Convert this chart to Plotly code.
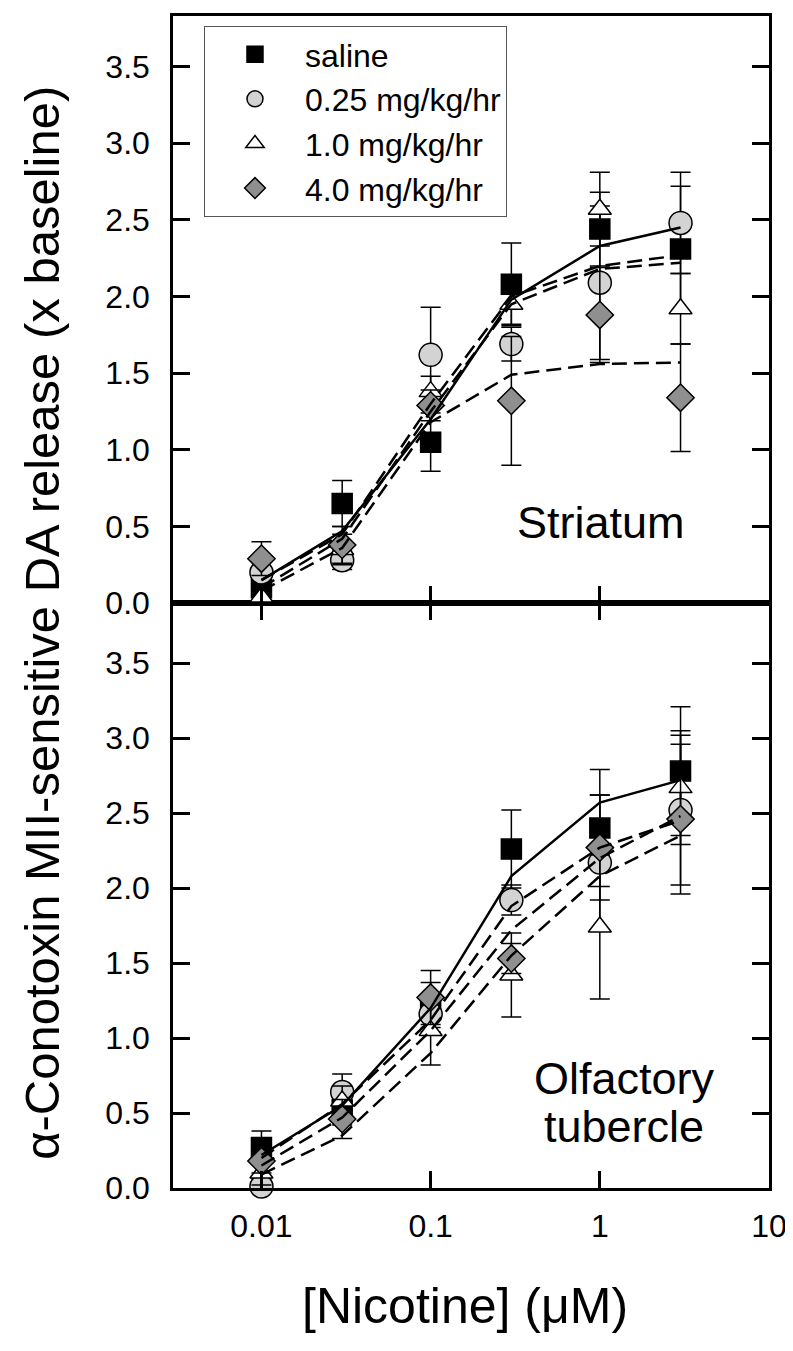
import plotly.graph_objects as go

conc = [0.01, 0.03, 0.1, 0.3, 1, 3]
groups = ["saline", "0.25 mg/kg/hr", "1.0 mg/kg/hr", "4.0 mg/kg/hr"]

# Striatum (top panel)
str_mean = {
    "saline": [0.10, 0.65, 1.05, 2.08, 2.44, 2.31],
    "0.25 mg/kg/hr": [0.20, 0.28, 1.62, 1.69, 2.09, 2.48],
    "1.0 mg/kg/hr": [0.04, 0.35, 1.38, 1.95, 2.57, 1.92],
    "4.0 mg/kg/hr": [0.29, 0.38, 1.29, 1.32, 1.88, 1.34],
}
str_err = {
    "saline": [0.05, 0.15, 0.19, 0.27, 0.24, 0.41],
    "0.25 mg/kg/hr": [0.07, 0.06, 0.31, 0.11, 0.50, 0.33],
    "1.0 mg/kg/hr": [0.04, 0.10, 0.10, 0.13, 0.24, 0.23],
    "4.0 mg/kg/hr": [0.11, 0.12, 0.10, 0.42, 0.31, 0.35],
}
str_fit = {
    "saline": [0.15, 0.47, 1.20, 1.98, 2.33, 2.45],
    "0.25 mg/kg/hr": [0.15, 0.45, 1.30, 2.00, 2.20, 2.27],
    "1.0 mg/kg/hr": [0.10, 0.42, 1.25, 1.95, 2.18, 2.22],
    "4.0 mg/kg/hr": [0.08, 0.36, 1.18, 1.49, 1.56, 1.57],
}

# Olfactory tubercle (bottom panel)
olf_mean = {
    "saline": [0.27, 0.52, 1.22, 2.26, 2.40, 2.78],
    "0.25 mg/kg/hr": [0.01, 0.64, 1.16, 1.92, 2.17, 2.52],
    "1.0 mg/kg/hr": [0.10, 0.58, 1.05, 1.42, 1.74, 2.67],
    "4.0 mg/kg/hr": [0.18, 0.46, 1.27, 1.53, 2.27, 2.46],
}
olf_err = {
    "saline": [0.11, 0.10, 0.15, 0.26, 0.39, 0.43],
    "0.25 mg/kg/hr": [0.05, 0.12, 0.12, 0.10, 0.45, 0.50],
    "1.0 mg/kg/hr": [0.08, 0.10, 0.23, 0.28, 0.48, 0.38],
    "4.0 mg/kg/hr": [0.08, 0.13, 0.18, 0.10, 0.35, 0.50],
}
olf_fit = {
    "saline": [0.22, 0.55, 1.20, 2.08, 2.57, 2.72],
    "0.25 mg/kg/hr": [0.20, 0.56, 1.12, 1.88, 2.27, 2.45],
    "1.0 mg/kg/hr": [0.09, 0.35, 0.90, 1.55, 2.08, 2.35],
    "4.0 mg/kg/hr": [0.15, 0.47, 1.05, 1.72, 2.20, 2.48],
}

x_ticks = [0.01, 0.1, 1, 10]
x_ticktext = ["0.01", "0.1", "1", "10"]
y_ticks = [0, 0.5, 1.0, 1.5, 2.0, 2.5, 3.0, 3.5]

style = {
    "saline": dict(symbol="square", color="black", size=20),
    "0.25 mg/kg/hr": dict(symbol="circle", color="#d3d3d3", size=23),
    "1.0 mg/kg/hr": dict(symbol="triangle-up", color="white", size=20),
    "4.0 mg/kg/hr": dict(symbol="diamond", color="#8f8f8f", size=21),
}
line_dash = {"saline": "solid", "0.25 mg/kg/hr": "15px,7px",
             "1.0 mg/kg/hr": "15px,7px", "4.0 mg/kg/hr": "15px,7px"}

FONT = "Liberation Sans, Arial, sans-serif"

fig = go.Figure()

for means, errs, fits, xa, ya in [(str_mean, str_err, str_fit, "x2", "y2"),
                                  (olf_mean, olf_err, olf_fit, "x", "y")]:
    for g in groups:
        s = style[g]
        fig.add_trace(go.Scatter(
            x=conc, y=means[g], mode="markers", xaxis=xa, yaxis=ya,
            showlegend=False, cliponaxis=False,
            marker=dict(symbol=s["symbol"], size=s["size"], color=s["color"],
                        line=dict(color="black", width=1.5)),
            error_y=dict(type="data", array=errs[g], color="black",
                         thickness=1.5, width=10),
        ))
    for g in groups:
        fig.add_trace(go.Scatter(
            x=conc, y=fits[g], mode="lines", xaxis=xa, yaxis=ya,
            showlegend=False, hoverinfo="skip",
            line=dict(color="black", width=2.5, dash=line_dash[g]),
        ))

# legend entries
for g in groups:
    s = style[g]
    fig.add_trace(go.Scatter(
        x=[None], y=[None], mode="markers", name=g, legendgroup=g,
        marker=dict(symbol=s["symbol"], size=s["size"], color=s["color"],
                    line=dict(color="black", width=1.5)),
    ))

split = 0.499
axis_common = dict(showline=True, linewidth=2.5, linecolor="black",
                   ticks="inside", ticklen=17, tickwidth=2.5, tickcolor="black",
                   showgrid=False, zeroline=False,
                   tickfont=dict(family=FONT, size=32, color="black"))

fig.update_layout(
    width=793, height=1351,
    margin=dict(l=165, r=32, t=5, b=171),
    plot_bgcolor="white", paper_bgcolor="white",
    font=dict(family=FONT, color="black"),
    xaxis=dict(type="log", range=[-2.5229, 1], tickvals=x_ticks,
               ticktext=x_ticktext, mirror="ticks", ticklabelstandoff=8,
               anchor="y", **axis_common),
    xaxis2=dict(type="log", range=[-2.5229, 1], tickvals=x_ticks,
                showticklabels=False, mirror=True, anchor="y2",
                matches="x", **axis_common),
    yaxis=dict(range=[0, 3.9], tickvals=y_ticks, tickformat=".1f",
               domain=[0, split], mirror="ticks", anchor="x",
               ticklabelstandoff=14, **axis_common),
    yaxis2=dict(range=[0, 3.83], tickvals=y_ticks, tickformat=".1f",
                domain=[split, 1], mirror="ticks", anchor="x2",
                ticklabelstandoff=14, **axis_common),
    legend=dict(x=0.052, y=0.9915, xanchor="left", yanchor="top",
                bgcolor="white", bordercolor="#555555", borderwidth=1,
                font=dict(family=FONT, size=32, color="black"),
                itemwidth=90, tracegroupgap=0, traceorder="grouped"),
    annotations=[
        dict(text="\u03b1-Conotoxin MII-sensitive DA release (x baseline)",
             xref="paper", yref="paper", x=-0.219, y=0.4826, textangle=-90,
             showarrow=False, xanchor="center", yanchor="middle",
             font=dict(family=FONT, size=49)),
        dict(text="[Nicotine] (\u03bcM)", xref="paper", yref="paper",
             x=0.49, y=-0.1004, showarrow=False, xanchor="center",
             yanchor="middle", font=dict(family=FONT, size=50)),
        dict(text="Striatum", xref="paper", yref="paper", x=0.7175, y=0.5677,
             showarrow=False, xanchor="center", yanchor="middle",
             font=dict(family=FONT, size=45)),
        dict(text="Olfactory", xref="paper", yref="paper", x=0.7575, y=0.0936,
             showarrow=False, xanchor="center", yanchor="middle",
             font=dict(family=FONT, size=45)),
        dict(text="tubercle", xref="paper", yref="paper", x=0.7575, y=0.0528,
             showarrow=False, xanchor="center", yanchor="middle",
             font=dict(family=FONT, size=45)),
    ],
)

fig.write_html("out.html")
